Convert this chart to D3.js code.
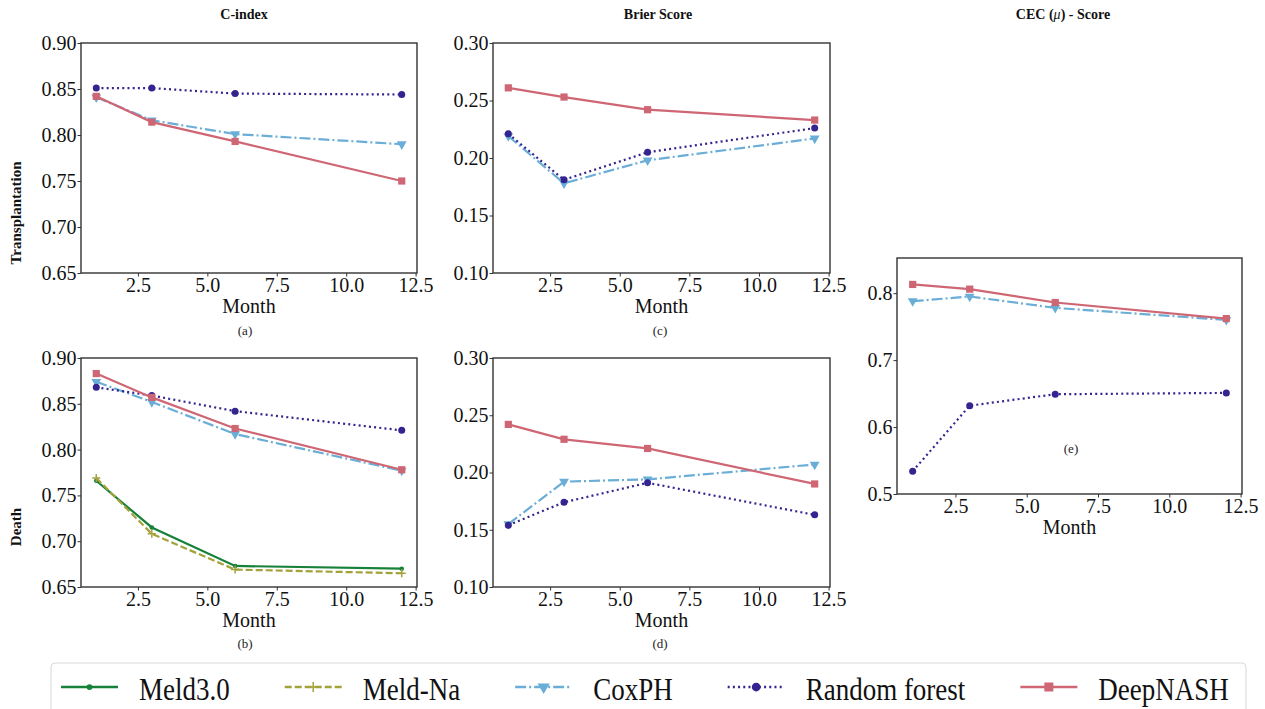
<!DOCTYPE html>
<html>
<head>
<meta charset="utf-8">
<script src="https://cdn.jsdelivr.net/npm/d3@7"></script>
<style>
body { margin: 0; background: #fff; }
svg { font-family: "Liberation Serif", "Times New Roman", serif; }
</style>
</head>
<body>
<svg id="chart" width="1265" height="709"></svg>
<script>
const months = [1, 3, 6, 12];
const monthTicks = [2.5, 5.0, 7.5, 10.0, 12.5];
const cIndexTicks = [0.65, 0.70, 0.75, 0.80, 0.85, 0.90];
const brierTicks = [0.10, 0.15, 0.20, 0.25, 0.30];
const cecTicks = [0.5, 0.6, 0.7, 0.8];
const modelNames = ["Meld3.0", "Meld-Na", "CoxPH", "Random forest", "DeepNASH"];

// (a) C-index, transplantation
const cTransCox = [0.841, 0.816, 0.801, 0.790];
const cTransRf = [0.851, 0.851, 0.845, 0.844];
const cTransDeep = [0.842, 0.814, 0.793, 0.750];
// (b) C-index, death
const cDeathMeld3 = [0.766, 0.715, 0.673, 0.670];
const cDeathMeldNa = [0.769, 0.708, 0.669, 0.665];
const cDeathCox = [0.874, 0.852, 0.817, 0.777];
const cDeathRf = [0.868, 0.859, 0.842, 0.821];
const cDeathDeep = [0.883, 0.857, 0.823, 0.778];
// (c) Brier score, transplantation
const bTransCox = [0.219, 0.178, 0.198, 0.217];
const bTransRf = [0.221, 0.181, 0.205, 0.226];
const bTransDeep = [0.261, 0.253, 0.242, 0.233];
// (d) Brier score, death
const bDeathCox = [0.155, 0.192, 0.194, 0.207];
const bDeathRf = [0.154, 0.174, 0.191, 0.163];
const bDeathDeep = [0.242, 0.229, 0.221, 0.190];
// (e) CEC score
const cecCox = [0.788, 0.795, 0.778, 0.760];
const cecRf = [0.534, 0.632, 0.649, 0.651];
const cecDeep = [0.813, 0.806, 0.786, 0.762];

const styles = {
    "Meld3.0":       { color: "#17813a", dash: null,          marker: "point" },
    "Meld-Na":       { color: "#a3a23a", dash: "7,3",         marker: "plus" },
    "CoxPH":         { color: "#6aaed8", dash: "11,3,2,3",    marker: "tri" },
    "Random forest": { color: "#33248f", dash: "2,3.2",       marker: "circle" },
    "DeepNASH":      { color: "#cf6674", dash: null,          marker: "square" }
};

const svg = d3.select("#chart");

function drawMarker(g, kind, color, x, y, k) {
    k = k || 1;
    if (kind === "point") {
        g.append("circle").attr("cx", x).attr("cy", y).attr("r", 2.3 * k).attr("fill", color);
    } else if (kind === "plus") {
        g.append("path")
            .attr("d", `M${x - 4 * k},${y}H${x + 4 * k}M${x},${y - 4 * k}V${y + 4 * k}`)
            .attr("stroke", color).attr("stroke-width", 1.5).attr("fill", "none");
    } else if (kind === "tri") {
        g.append("path")
            .attr("d", d3.symbol().type(d3.symbolTriangle).size(42 * k * k)())
            .attr("transform", `translate(${x},${y}) rotate(180)`)
            .attr("fill", color);
    } else if (kind === "circle") {
        g.append("circle").attr("cx", x).attr("cy", y).attr("r", 3.5 * k).attr("fill", color);
    } else if (kind === "square") {
        g.append("rect").attr("x", x - 3.6 * k).attr("y", y - 3.6 * k)
            .attr("width", 7.2 * k).attr("height", 7.2 * k).attr("fill", color);
    }
}

function drawPanel(p) {
    const xScale = d3.scaleLinear().domain([0.45, 12.55]).range([p.x0, p.x1]);
    const yScale = d3.scaleLinear().domain(p.yDomain).range([p.y1, p.y0]);
    const g = svg.append("g");

    let xAxis = d3.axisBottom(xScale).tickValues(monthTicks).tickFormat(d3.format(".1f"))
        .tickSize(3.5).tickPadding(1.5);
    g.append("g").attr("transform", `translate(0,${p.y1})`).call(xAxis);

    let yAxis = d3.axisLeft(yScale).tickValues(p.yTicks).tickFormat(d3.format(p.fmt))
        .tickSize(3.5).tickPadding(1);
    g.append("g").attr("transform", `translate(${p.x0},0)`).call(yAxis);

    g.selectAll(".domain").remove();
    g.selectAll(".tick line").attr("stroke", "#333");
    g.selectAll(".tick text").attr("font-size", 20).attr("fill", "#111")
        .attr("font-family", "'Liberation Serif', 'Times New Roman', serif");

    const line = d3.line().x((d, i) => xScale(months[i])).y(d => yScale(d));
    p.series.forEach(s => {
        const st = styles[s.name];
        g.append("path")
            .datum(s.values)
            .attr("d", line)
            .attr("fill", "none")
            .attr("stroke", st.color)
            .attr("stroke-width", 2.2)
            .attr("stroke-dasharray", st.dash);
        s.values.forEach((v, i) => drawMarker(g, st.marker, st.color, xScale(months[i]), yScale(v)));
    });

    g.append("rect")
        .attr("x", p.x0).attr("y", p.y0)
        .attr("width", p.x1 - p.x0).attr("height", p.y1 - p.y0)
        .attr("fill", "none").attr("stroke", "#333").attr("stroke-width", 1.4);

    g.append("text")
        .attr("x", (p.x0 + p.x1) / 2).attr("y", p.y1 + 40)
        .attr("text-anchor", "middle").attr("font-size", 20).attr("fill", "#111")
        .text("Month");

    g.append("text")
        .attr("x", p.capX).attr("y", p.capY)
        .attr("text-anchor", "middle").attr("font-size", 13).attr("fill", "#222")
        .text(p.caption);
}

const panels = [
    { x0: 81, x1: 417, y0: 43, y1: 273, yDomain: [0.65, 0.90], yTicks: cIndexTicks, fmt: ".2f",
      caption: "(a)", capX: 245, capY: 335,
      series: [{ name: "CoxPH", values: cTransCox }, { name: "Random forest", values: cTransRf },
               { name: "DeepNASH", values: cTransDeep }] },
    { x0: 81, x1: 417, y0: 358, y1: 587, yDomain: [0.65, 0.90], yTicks: cIndexTicks, fmt: ".2f",
      caption: "(b)", capX: 245, capY: 648,
      series: [{ name: "Meld3.0", values: cDeathMeld3 }, { name: "Meld-Na", values: cDeathMeldNa },
               { name: "CoxPH", values: cDeathCox }, { name: "Random forest", values: cDeathRf },
               { name: "DeepNASH", values: cDeathDeep }] },
    { x0: 493, x1: 830, y0: 43, y1: 273, yDomain: [0.10, 0.30], yTicks: brierTicks, fmt: ".2f",
      caption: "(c)", capX: 660, capY: 335,
      series: [{ name: "CoxPH", values: bTransCox }, { name: "Random forest", values: bTransRf },
               { name: "DeepNASH", values: bTransDeep }] },
    { x0: 493, x1: 830, y0: 358, y1: 587, yDomain: [0.10, 0.30], yTicks: brierTicks, fmt: ".2f",
      caption: "(d)", capX: 660, capY: 648,
      series: [{ name: "CoxPH", values: bDeathCox }, { name: "Random forest", values: bDeathRf },
               { name: "DeepNASH", values: bDeathDeep }] },
    { x0: 897, x1: 1242, y0: 258, y1: 494, yDomain: [0.5, 0.8525], yTicks: cecTicks, fmt: ".1f",
      caption: "(e)", capX: 1071, capY: 453,
      series: [{ name: "CoxPH", values: cecCox }, { name: "Random forest", values: cecRf },
               { name: "DeepNASH", values: cecDeep }] }
];
panels.forEach(drawPanel);

// column titles
const titles = svg.append("g").attr("font-weight", "bold").attr("font-size", 14)
    .attr("text-anchor", "middle").attr("fill", "#111");
titles.append("text").attr("x", 244).attr("y", 19).text("C-index");
titles.append("text").attr("x", 658).attr("y", 19).text("Brier Score");
const cec = titles.append("text").attr("x", 1063).attr("y", 19);
cec.append("tspan").text("CEC (");
cec.append("tspan").attr("font-style", "italic").attr("font-weight", "normal").text("\u03bc");
cec.append("tspan").text(") - Score");

// row labels
[["Transplantation", 213], ["Death", 527]].forEach(([label, cy]) => {
    svg.append("text")
        .attr("transform", `translate(21,${cy}) rotate(-90)`)
        .attr("text-anchor", "middle").attr("font-weight", "bold").attr("font-size", 15)
        .attr("fill", "#111").text(label);
});

// legend
const legend = svg.append("g");
legend.append("rect")
    .attr("x", 51).attr("y", 663).attr("width", 1195).attr("height", 52)
    .attr("rx", 4).attr("fill", "#fff").attr("stroke", "#d8d8d8").attr("stroke-width", 1);

let lx = 61;
modelNames.forEach(name => {
    const st = styles[name];
    const ly = 687;
    legend.append("line")
        .attr("x1", lx).attr("x2", lx + 57).attr("y1", ly).attr("y2", ly)
        .attr("stroke", st.color).attr("stroke-width", 2.4)
        .attr("stroke-dasharray", st.dash);
    drawMarker(legend, st.marker, st.color, lx + 28.5, ly, 1.25);
    const t = legend.append("text")
        .attr("transform", `translate(${lx + 78},700) scale(1,1.17)`)
        .attr("font-size", 27).attr("fill", "#111").text(name);
    lx = lx + 78 + t.node().getComputedTextLength() + 55;
});
</script>
</body>
</html>
